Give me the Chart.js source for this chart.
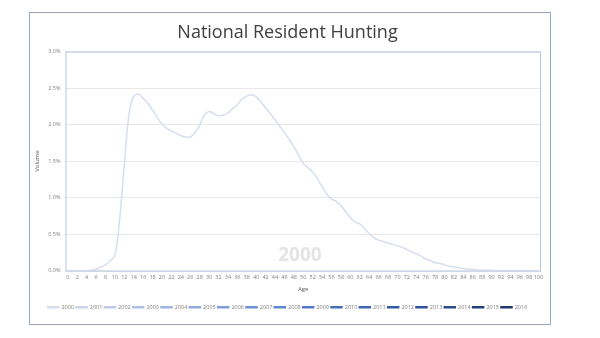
<!DOCTYPE html>
<html>
<head>
<meta charset="utf-8">
<script src="https://cdn.jsdelivr.net/npm/chart.js@4"></script>
<style>
    body { margin: 0; background: #ffffff; width: 600px; height: 338px; position: relative; overflow: hidden; }
    #frame {
        position: absolute; left: 29px; top: 12px; width: 522px; height: 313px;
        border: 1px solid #97a7bd; box-sizing: border-box; background: #ffffff;
    }
    #chart { display: block; }
</style>
</head>
<body>
<div id="frame"><canvas id="chart"></canvas></div>
<script>
const ages = Array.from({ length: 101 }, (_, i) => String(i));

const years = ['2000', '2001', '2002', '2003', '2004', '2005', '2006', '2007', '2008',
    '2009', '2010', '2011', '2012', '2013', '2014', '2015', '2016'];

const yearColors = ['#d6deee', '#c9d5ec', '#bccbe9', '#adc0e6', '#9eb5e3', '#8eaadf', '#7f9fdb',
    '#6f93d6', '#5f87d0', '#517bc8', '#456fbe', '#3c65b2', '#345ba6', '#2e5299', '#29498c',
    '#23407e', '#1e3870'];

// share of volume by age (%), ages 0..100
const volume2000 = [
    0, 0, 0, 0, 0, 0.005, 0.02, 0.05, 0.08, 0.14,
    0.21, 0.7, 1.45, 2.15, 2.39, 2.42, 2.36, 2.29, 2.2, 2.1,
    2.01, 1.95, 1.91, 1.88, 1.85, 1.83, 1.83, 1.89, 1.99, 2.13,
    2.18, 2.15, 2.12, 2.13, 2.16, 2.22, 2.27, 2.35, 2.39, 2.41,
    2.38, 2.31, 2.23, 2.15, 2.07, 1.98, 1.89, 1.8, 1.7, 1.58,
    1.47, 1.41, 1.35, 1.26, 1.15, 1.05, 0.98, 0.95, 0.89, 0.81,
    0.73, 0.67, 0.64, 0.58, 0.51, 0.45, 0.42, 0.4, 0.38, 0.36,
    0.34, 0.32, 0.29, 0.26, 0.23, 0.2, 0.16, 0.14, 0.11, 0.1,
    0.08, 0.06, 0.05, 0.04, 0.03, 0.02, 0.02, 0.01, 0.01, 0.005,
    0.005, 0, 0, 0, 0, 0, 0, 0, 0, 0,
    0
];

// only the 2000 frame is shown in this picture
const seriesValues = { '2000': volume2000 };

const shownYear = '2000';

// draws the plot area frame and the big year label
const plotDecor = {
    id: 'plotDecor',
    afterDatasetsDraw(chart) {
        const { ctx, chartArea } = chart;
        ctx.save();
        ctx.font = 'bold 19px "Open Sans", sans-serif';
        ctx.fillStyle = '#e4e4e4';
        ctx.textAlign = 'center';
        ctx.textBaseline = 'middle';
        ctx.fillText(shownYear, chartArea.left + (chartArea.right - chartArea.left) * 0.493, chartArea.bottom - 15);
        ctx.strokeStyle = '#b7c7e3';
        ctx.lineWidth = 1;
        ctx.strokeRect(chartArea.left + 0.5, chartArea.top + 0.5,
            chartArea.right - chartArea.left - 1, chartArea.bottom - chartArea.top);
        ctx.restore();
    }
};

const datasets = years.map((year, i) => ({
    label: year,
    data: seriesValues[year] || [],
    borderColor: yearColors[i],
    backgroundColor: yearColors[i],
    borderWidth: 1.5,
    pointRadius: 0,
    tension: 0.35,
    fill: false
}));

new Chart(document.getElementById('chart').getContext('2d'), {
    type: 'line',
    data: {
        labels: ages,
        datasets: datasets
    },
    options: {
        responsive: true,
        maintainAspectRatio: false,
        animation: false,
        layout: {
            padding: { left: 4, right: 9, top: 9, bottom: 4 }
        },
        plugins: {
            title: {
                display: true,
                text: 'National Resident Hunting',
                color: '#404040',
                font: { family: '"Open Sans", sans-serif', size: 18, weight: 'normal' },
                padding: { top: 0, bottom: 8 }
            },
            legend: {
                position: 'bottom',
                labels: {
                    color: '#7f7f7f',
                    font: { family: '"Open Sans", sans-serif', size: 5.5 },
                    boxWidth: 11,
                    boxHeight: 1,
                    padding: 2
                }
            },
            tooltip: { enabled: false }
        },
        scales: {
            x: {
                offset: true,
                grid: { display: false, drawTicks: false },
                border: { display: false },
                ticks: {
                    color: '#7f7f7f',
                    font: { family: '"Open Sans", sans-serif', size: 5.5 },
                    autoSkip: false,
                    maxRotation: 0,
                    padding: 3,
                    callback: (value, index) => (index % 2 === 0 ? ages[index] : null)
                },
                title: {
                    display: true,
                    text: 'Age',
                    color: '#595959',
                    font: { family: '"Open Sans", sans-serif', size: 6 },
                    padding: { top: 2, bottom: 10 }
                }
            },
            y: {
                min: 0,
                max: 3,
                grid: { color: '#e8e8e8', drawTicks: false },
                border: { display: false },
                ticks: {
                    stepSize: 0.5,
                    color: '#7f7f7f',
                    font: { family: '"Open Sans", sans-serif', size: 5.5 },
                    padding: 5,
                    callback: value => value.toFixed(1) + '%'
                },
                title: {
                    display: true,
                    text: 'Volume',
                    color: '#595959',
                    font: { family: '"Open Sans", sans-serif', size: 6 },
                    padding: { top: 0, bottom: 2 }
                }
            }
        }
    },
    plugins: [plotDecor]
});
</script>
</body>
</html>
